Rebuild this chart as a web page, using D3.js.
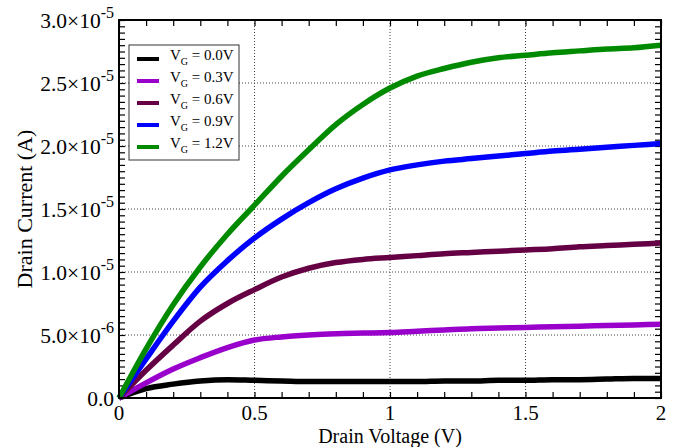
<!DOCTYPE html>
<html>
<head>
<meta charset="utf-8">
<script src="https://cdn.jsdelivr.net/npm/d3@7"></script>
<style>
  body { margin: 0; background: #fff; }
  svg { display: block; }
  text { font-family: "Liberation Serif", "DejaVu Serif", serif; fill: #000; }
</style>
</head>
<body>
<svg width="697" height="447"></svg>
<script>
// Drain voltage samples (V)
const vd = [0, 0.1, 0.2, 0.3, 0.4, 0.5, 0.6, 0.7, 0.8, 0.9, 1.0,
            1.1, 1.2, 1.3, 1.4, 1.5, 1.6, 1.7, 1.8, 1.9, 2.0];

// Drain current, in units of 1e-5 A, one array per gate voltage
const id00 = [0, 0.075, 0.11, 0.135, 0.145, 0.14, 0.135, 0.13, 0.13, 0.13, 0.13,
              0.13, 0.135, 0.135, 0.14, 0.14, 0.145, 0.145, 0.15, 0.155, 0.155];
const id03 = [0, 0.12, 0.23, 0.32, 0.40, 0.46, 0.485, 0.50, 0.51, 0.515, 0.52,
              0.53, 0.54, 0.55, 0.555, 0.56, 0.565, 0.57, 0.575, 0.58, 0.585];
const id06 = [0, 0.22, 0.42, 0.61, 0.75, 0.86, 0.96, 1.03, 1.075, 1.10, 1.115,
              1.13, 1.145, 1.155, 1.165, 1.175, 1.185, 1.20, 1.21, 1.22, 1.23];
const id09 = [0, 0.31, 0.61, 0.88, 1.09, 1.27, 1.42, 1.55, 1.66, 1.745, 1.81,
              1.85, 1.88, 1.90, 1.92, 1.94, 1.96, 1.975, 1.99, 2.005, 2.02];
const id12 = [0, 0.39, 0.74, 1.04, 1.30, 1.53, 1.76, 1.97, 2.17, 2.33, 2.46,
              2.555, 2.615, 2.665, 2.70, 2.72, 2.74, 2.755, 2.77, 2.78, 2.80];

const series = [id00, id03, id06, id09, id12];
const legendLabels = ["0.0V", "0.3V", "0.6V", "0.9V", "1.2V"];
const colors = ["#000000", "#9900cc", "#660044", "#0000ff", "#008a00"];

const xTicks = [0, 0.5, 1, 1.5, 2];
const xTickLabels = ["0", "0.5", "1", "1.5", "2"];
const yTicks = [0, 0.5, 1, 1.5, 2, 2.5, 3];
const yTickMant = ["0.0", "5.0×10", "1.0×10", "1.5×10", "2.0×10", "2.5×10", "3.0×10"];
const yTickExp = ["", "-6", "-5", "-5", "-5", "-5", "-5"];

const margin = {top: 20, right: 36, bottom: 49, left: 119};
const width = 697 - margin.left - margin.right;
const height = 447 - margin.top - margin.bottom;

const svg = d3.select("svg");
const g = svg.append("g")
  .attr("transform", `translate(${margin.left},${margin.top})`);

const x = d3.scaleLinear().domain([0, 2]).range([0, width]);
const y = d3.scaleLinear().domain([0, 3]).range([height, 0]);

// dotted grid
g.selectAll(".gx")
  .data(xTicks.slice(1, -1))
  .enter().append("line")
  .attr("x1", d => x(d)).attr("x2", d => x(d))
  .attr("y1", 0).attr("y2", height)
  .attr("stroke", "#444").attr("stroke-width", 1)
  .attr("stroke-dasharray", "1,2");

g.selectAll(".gy")
  .data(yTicks.slice(1, -1))
  .enter().append("line")
  .attr("x1", 0).attr("x2", width)
  .attr("y1", d => y(d)).attr("y2", d => y(d))
  .attr("stroke", "#444").attr("stroke-width", 1)
  .attr("stroke-dasharray", "1,2");

// inward ticks on all four sides
const xMinor = d3.range(0, 2.0001, 0.1);
const yMinor = d3.range(0, 3.0001, 0.05);

function tickAxis(axis, sel) {
  sel.call(axis);
  sel.select(".domain").remove();
  sel.selectAll("line").attr("stroke", "#000").attr("stroke-width", 1.2);
}

tickAxis(d3.axisBottom(x).tickValues(xMinor).tickSize(-6).tickFormat(""),
  g.append("g").attr("transform", `translate(0,${height})`));
tickAxis(d3.axisTop(x).tickValues(xMinor).tickSize(-6).tickFormat(""),
  g.append("g"));
tickAxis(d3.axisLeft(y).tickValues(yMinor).tickSize(-6).tickFormat(""),
  g.append("g"));
tickAxis(d3.axisRight(y).tickValues(yMinor).tickSize(-6).tickFormat(""),
  g.append("g").attr("transform", `translate(${width},0)`));

// curves
const line = d3.line()
  .x((d, i) => x(vd[i]))
  .y(d => y(d))
  .curve(d3.curveMonotoneX);

g.selectAll(".curve")
  .data(series)
  .enter().append("path")
  .attr("d", line)
  .attr("fill", "none")
  .attr("stroke", (d, i) => colors[i])
  .attr("stroke-width", 5.5)
  .attr("stroke-linejoin", "round");

// frame
g.append("rect")
  .attr("width", width).attr("height", height)
  .attr("fill", "none").attr("stroke", "#000").attr("stroke-width", 2);

// tick labels
g.selectAll(".xl")
  .data(xTicks)
  .enter().append("text")
  .attr("x", d => x(d))
  .attr("y", height + 22)
  .attr("text-anchor", "middle")
  .attr("font-size", 21)
  .text((d, i) => xTickLabels[i]);

const yl = g.selectAll(".yl")
  .data(yTicks)
  .enter().append("text")
  .attr("x", -5)
  .attr("y", d => y(d) + 7.5)
  .attr("text-anchor", "end")
  .attr("font-size", 21.5);
yl.append("tspan").text((d, i) => yTickMant[i]);
yl.append("tspan")
  .attr("font-size", 16)
  .attr("dy", -10)
  .text((d, i) => yTickExp[i]);

// axis titles
g.append("text")
  .attr("x", width / 2)
  .attr("y", height + 45)
  .attr("text-anchor", "middle")
  .attr("font-size", 20)
  .text("Drain Voltage (V)");

g.append("text")
  .attr("transform", `translate(${-87},${height / 2}) rotate(-90)`)
  .attr("text-anchor", "middle")
  .attr("font-size", 22)
  .text("Drain Current (A)");

// legend
const lg = svg.append("g").attr("transform", "translate(129,45)");
lg.append("rect")
  .attr("width", 110).attr("height", 115)
  .attr("fill", "#fff").attr("stroke", "#333").attr("stroke-width", 1);

const row = lg.selectAll(".row")
  .data(legendLabels)
  .enter().append("g")
  .attr("transform", (d, i) => `translate(0,${14 + i * 22})`);

row.append("line")
  .attr("x1", 8).attr("x2", 30)
  .attr("y1", 0).attr("y2", 0)
  .attr("stroke", (d, i) => colors[i])
  .attr("stroke-width", 4);

const lt = row.append("text")
  .attr("x", 41).attr("y", 1)
  .attr("font-size", 15);
lt.append("tspan").text("V");
lt.append("tspan").attr("font-size", 10).attr("dy", 5).text("G");
lt.append("tspan").attr("dy", -5).text(d => " = " + d);
</script>
</body>
</html>
